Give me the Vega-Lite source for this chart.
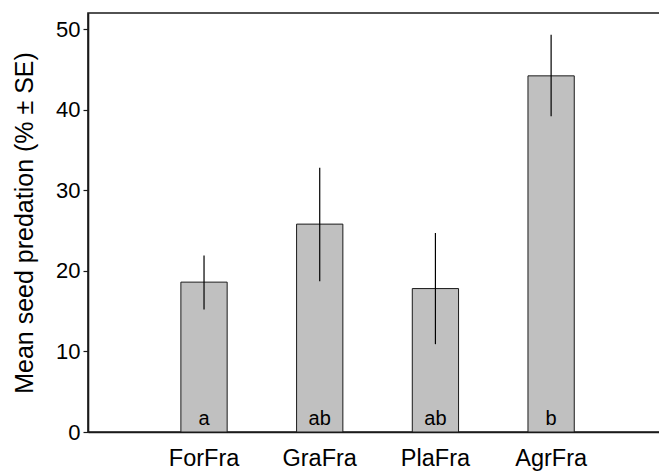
{
  "$schema": "https://vega.github.io/schema/vega-lite/v6.json",
  "autosize": "none",
  "padding": {"left": 88, "top": 13, "right": 0, "bottom": 39},
  "width": 572,
  "height": 419,
  "background": "white",
  "config": {
    "font": "Liberation Sans",
    "view": {"stroke": "#1a1a1a", "strokeWidth": 1.6},
    "axis": {"grid": false, "domainColor": "#1a1a1a", "domainWidth": 1.6, "tickColor": "#1a1a1a", "labelColor": "#000", "titleColor": "#000", "labelFont": "Liberation Sans", "titleFont": "Liberation Sans"}
  },
  "data": {
    "values": [
      {"site": "ForFra", "mean": 18.6, "lo": 15.2, "hi": 21.9, "group": "a"},
      {"site": "GraFra", "mean": 25.8, "lo": 18.7, "hi": 32.8, "group": "ab"},
      {"site": "PlaFra", "mean": 17.8, "lo": 10.9, "hi": 24.7, "group": "ab"},
      {"site": "AgrFra", "mean": 44.2, "lo": 39.2, "hi": 49.3, "group": "b"}
    ]
  },
  "encoding": {
    "x": {
      "field": "site",
      "type": "nominal",
      "sort": null,
      "scale": {"paddingInner": 0.6, "paddingOuter": 0.772, "align": 0.52},
      "axis": {"title": null, "labelAngle": 0, "ticks": false, "labelFontSize": 23.5, "labelPadding": 14, "labelBaseline": "top"}
    }
  },
  "layer": [
    {
      "mark": {"type": "bar", "fill": "#c0c0c0", "stroke": "#1a1a1a", "strokeWidth": 1},
      "encoding": {
        "y": {
          "field": "mean",
          "type": "quantitative",
          "scale": {"domain": [0, 52], "nice": false},
          "axis": {"values": [0, 10, 20, 30, 40, 50], "tickSize": 5, "tickWidth": 1.2, "labelFontSize": 22, "labelPadding": 3, "title": "Mean seed predation (% ± SE)", "titleFontSize": 25, "titleFontWeight": "normal", "titlePadding": 18}
        }
      }
    },
    {
      "mark": {"type": "rule", "stroke": "#000", "strokeWidth": 1.2},
      "encoding": {
        "y": {"field": "lo", "type": "quantitative"},
        "y2": {"field": "hi"}
      }
    },
    {
      "mark": {"type": "text", "fontSize": 20, "baseline": "alphabetic", "align": "center", "dy": -7, "color": "#000"},
      "encoding": {
        "y": {"datum": 0, "type": "quantitative"},
        "text": {"field": "group"}
      }
    }
  ]
}
